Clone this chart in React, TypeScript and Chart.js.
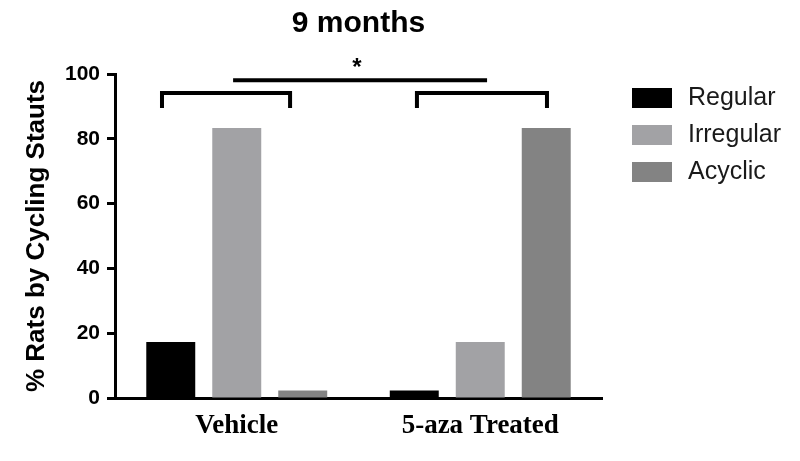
import React, { useEffect, useRef } from "react";
import { Chart, registerables } from "chart.js";

Chart.register(...registerables);

// ---- data ----
const categories = ["Vehicle", "5-aza Treated"];
const seriesNames = ["Regular", "Irregular", "Acyclic"];
const regularValues = [17.3, 2.3];
const irregularValues = [83.3, 17.3];
const acyclicValues = [2.3, 83.3];
const seriesColors = ["#000000", "#a2a2a5", "#838383"];
const chartTitle = "9 months";
const yAxisTitle = "% Rats by Cycling Stauts";
const yMin = 0;
const yMax = 100;
const yStep = 20;
// significance brackets in category / value units: [xStart, xEnd, yTop, yLegEnd]
const groupBrackets = [
  [-0.307, 0.219, 94.1, 89.5],
  [0.74, 1.274, 94.1, 89.5],
];
const topLine = [-0.015, 1.028, 98.1];
const starText = "*";
const starPosition = [0.494, 101.8];

const SANS = "'Liberation Sans', Arial, Helvetica, sans-serif";
const SERIF = "'Liberation Serif', 'Times New Roman', Times, serif";

const overlayPlugin = {
  id: "overlay",
  afterDraw(chart: any) {
    const { ctx, chartArea } = chart;
    const x = chart.scales.x;
    const y = chart.scales.y;
    ctx.save();
    ctx.strokeStyle = "#000";
    ctx.lineWidth = 4;
    ctx.lineCap = "butt";
    ctx.lineJoin = "miter";
    groupBrackets.forEach(([x0, x1, yt, yl]) => {
      ctx.beginPath();
      ctx.moveTo(x.getPixelForValue(x0), y.getPixelForValue(yl));
      ctx.lineTo(x.getPixelForValue(x0), y.getPixelForValue(yt));
      ctx.lineTo(x.getPixelForValue(x1), y.getPixelForValue(yt));
      ctx.lineTo(x.getPixelForValue(x1), y.getPixelForValue(yl));
      ctx.stroke();
    });
    ctx.beginPath();
    ctx.moveTo(x.getPixelForValue(topLine[0]), y.getPixelForValue(topLine[2]));
    ctx.lineTo(x.getPixelForValue(topLine[1]), y.getPixelForValue(topLine[2]));
    ctx.stroke();
    ctx.fillStyle = "#000";
    ctx.font = `bold 24px ${SANS}`;
    ctx.textAlign = "center";
    ctx.textBaseline = "middle";
    ctx.fillText(starText, x.getPixelForValue(starPosition[0]), y.getPixelForValue(starPosition[1]));

    // legend
    const lx = chartArea.right + 30;
    const ly = chartArea.top + 24;
    const rowGap = 37;
    chart.data.datasets.forEach((ds: any, i: number) => {
      const cy = ly + i * rowGap;
      ctx.fillStyle = ds.backgroundColor;
      ctx.fillRect(lx, cy - 10, 40, 20);
      ctx.fillStyle = "#1a1a1a";
      ctx.font = `25px ${SANS}`;
      ctx.textAlign = "left";
      ctx.textBaseline = "middle";
      ctx.fillText(ds.label, lx + 56, cy);
    });
    ctx.restore();
  },
};

export default function App() {
  const canvasRef = useRef<HTMLCanvasElement | null>(null);

  useEffect(() => {
    if (!canvasRef.current) return;
    const valuesBySeries = [regularValues, irregularValues, acyclicValues];
    const chart = new Chart(canvasRef.current, {
      type: "bar",
      data: {
        labels: categories,
        datasets: seriesNames.map((name, i) => ({
          label: name,
          data: valuesBySeries[i],
          backgroundColor: seriesColors[i],
          borderWidth: 0,
          categoryPercentage: 0.813,
          barPercentage: 0.742,
        })),
      },
      options: {
        animation: false,
        responsive: false,
        maintainAspectRatio: false,
        layout: { padding: { left: 0, right: 198, top: 0, bottom: 0 } },
        plugins: {
          legend: { display: false },
          tooltip: { enabled: false },
          title: {
            display: true,
            text: chartTitle,
            color: "#000",
            fullSize: false,
            font: { size: 30, weight: "bold", family: SANS },
            padding: { top: 6, bottom: 32 },
          },
        },
        scales: {
          x: {
            type: "category",
            offset: true,
            grid: { display: true, drawOnChartArea: false, drawTicks: false },
            border: { display: true, color: "#000", width: 3 },
            ticks: {
              color: "#000",
              padding: 12,
              font: { size: 27, weight: "bold", family: SERIF },
              maxRotation: 0,
            },
            afterFit: (scale: any) => {
              scale.height = 63;
            },
          },
          y: {
            min: yMin,
            max: yMax,
            grid: {
              display: true,
              drawOnChartArea: false,
              drawTicks: true,
              tickLength: 8,
              tickWidth: 3,
              tickColor: "#000",
            },
            border: { display: true, color: "#000", width: 3 },
            ticks: {
              stepSize: yStep,
              color: "#000",
              padding: 7,
              font: { size: 21, weight: "bold", family: SANS },
            },
            title: {
              display: true,
              text: yAxisTitle,
              color: "#000",
              font: { size: 26, weight: "bold", family: SANS },
              padding: { top: 21, bottom: 0 },
            },
            afterFit: (scale: any) => {
              scale.width = 115;
            },
          },
        },
      },
      plugins: [overlayPlugin],
    } as any);
    return () => chart.destroy();
  }, []);

  return (
    <div style={{ position: "fixed", left: 0, top: 0, width: 800, height: 461, background: "#fff" }}>
      <canvas ref={canvasRef} width={800} height={461} style={{ width: 800, height: 461, display: "block" }} />
    </div>
  );
}
